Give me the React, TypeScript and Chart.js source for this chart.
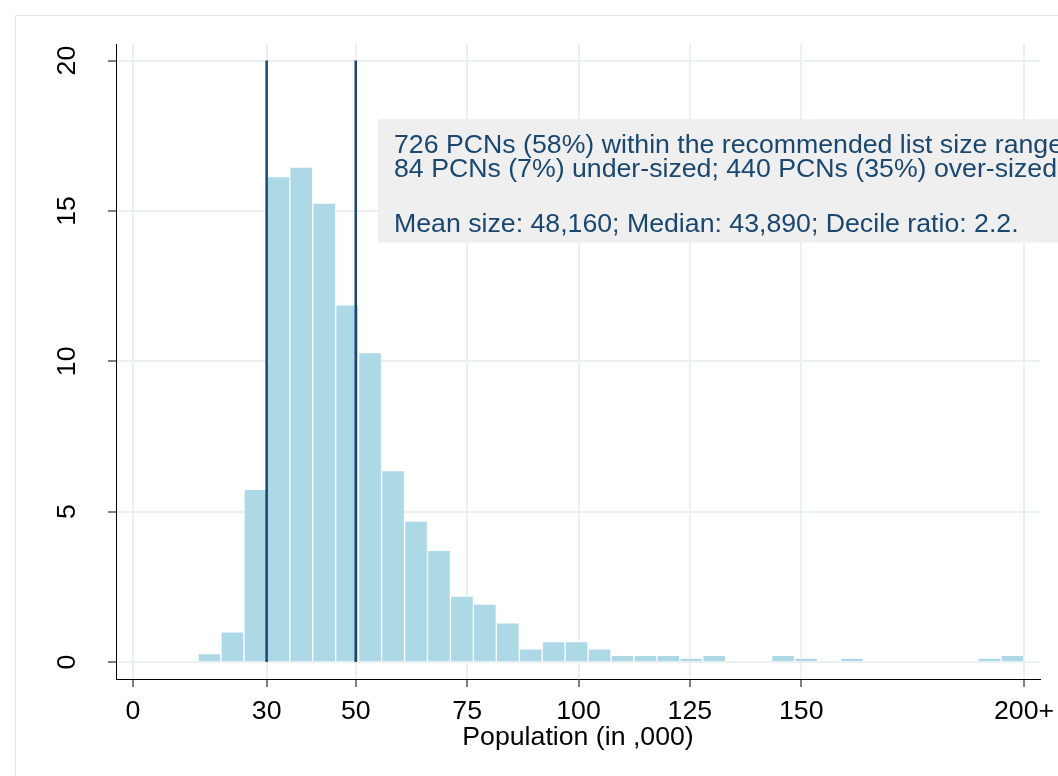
import React, { useEffect, useRef } from 'react';
import { Chart, registerables } from 'chart.js';

Chart.register(...registerables);

// ---- data ----
const BIN_START = 14.6; // left edge of first bin (thousands)
const BIN_WIDTH = 5.15; // bin width (thousands)
const PERCENT = [
  0.28, 1.0, 5.74, 16.14, 16.46, 15.26, 11.88, 10.29, 6.37, 4.69, 3.71, 2.19,
  1.93, 1.3, 0.44, 0.68, 0.68, 0.44, 0.22, 0.22, 0.22, 0.13, 0.22, 0, 0, 0.22,
  0.13, 0, 0.13, 0, 0, 0, 0, 0, 0.13, 0.22,
];
const X_TICKS = [0, 30, 50, 75, 100, 125, 150, 200];
const X_TICK_LABELS = ['0', '30', '50', '75', '100', '125', '150', '200+'];
const Y_TICKS = [0, 5, 10, 15, 20];
const REF_LINES = [30, 50];
const X_TITLE = 'Population (in ,000)';
const NOTE_LINES = [
  '726 PCNs (58%) within the recommended list size range',
  '84 PCNs (7%) under-sized; 440 PCNs (35%) over-sized',
  '',
  'Mean size: 48,160; Median: 43,890; Decile ratio: 2.2.',
];
// note box anchor in data units
const NOTE_X = 55;
const NOTE_TOP = 18.05;
const NOTE_BOTTOM = 13.95;

// ---- style ----
const FAMILY = '"Liberation Sans", Arial, Helvetica, sans-serif';
const FS = 26.7;
const NAVY = '#1a476f';
const BAR = '#add8e6';
const GRID = '#e9f1f3';

const decor = {
  id: 'decor',
  beforeDraw(chart: any) {
    const ctx = chart.ctx;
    ctx.save();
    ctx.strokeStyle = '#e4e4e4';
    ctx.lineWidth = 1;
    ctx.beginPath();
    ctx.moveTo(15.5, chart.height);
    ctx.lineTo(15.5, 15.5);
    ctx.lineTo(chart.width, 15.5);
    ctx.stroke();
    ctx.restore();
  },
  afterDatasetsDraw(chart: any) {
    const ctx = chart.ctx;
    const xs = chart.scales.x;
    const ys = chart.scales.y;
    ctx.save();
    // reference lines
    ctx.strokeStyle = NAVY;
    ctx.lineWidth = 2.5;
    const yTop = ys.getPixelForValue(Y_TICKS[Y_TICKS.length - 1]);
    const yBot = ys.getPixelForValue(0);
    for (const v of REF_LINES) {
      const px = xs.getPixelForValue(v);
      ctx.beginPath();
      ctx.moveTo(px, yTop);
      ctx.lineTo(px, yBot);
      ctx.stroke();
    }
    // note box
    const bx = xs.getPixelForValue(NOTE_X);
    const by = ys.getPixelForValue(NOTE_TOP);
    const bb = ys.getPixelForValue(NOTE_BOTTOM);
    ctx.fillStyle = '#efefef';
    ctx.fillRect(bx, by, chart.width - bx, bb - by);
    ctx.fillStyle = NAVY;
    ctx.font = `${FS}px ${FAMILY}`;
    ctx.textAlign = 'left';
    ctx.textBaseline = 'alphabetic';
    const offs = [34, 58, 86, 113];
    NOTE_LINES.forEach((t, i) => {
      if (t) ctx.fillText(t, bx + 16, by + offs[i]);
    });
    ctx.restore();
  },
  afterDraw(chart: any) {
    const ctx = chart.ctx;
    const ys = chart.scales.y;
    ctx.save();
    ctx.fillStyle = '#000';
    ctx.font = `${FS}px ${FAMILY}`;
    ctx.textAlign = 'center';
    ctx.textBaseline = 'alphabetic';
    for (const v of Y_TICKS) {
      const py = ys.getPixelForValue(v);
      ctx.save();
      ctx.translate(75, py);
      ctx.rotate(-Math.PI / 2);
      ctx.fillText(String(v), 0, 0);
      ctx.restore();
    }
    ctx.restore();
  },
};

export default function App() {
  const ref = useRef<HTMLCanvasElement>(null);
  useEffect(() => {
    if (!ref.current) return;
    const chart = new Chart(ref.current, {
      type: 'bar',
      data: {
        datasets: [
          {
            data: PERCENT.map((v, k) => ({ x: BIN_START + (k + 0.5) * BIN_WIDTH, y: v })) as any,
            backgroundColor: BAR,
            borderColor: '#ffffff',
            borderWidth: 1,
            categoryPercentage: 1,
            barPercentage: 1,
          },
        ],
      },
      options: {
        responsive: false,
        maintainAspectRatio: false,
        animation: false,
        layout: { padding: { left: 0, right: 18, top: 44, bottom: 0 } },
        plugins: { legend: { display: false }, tooltip: { enabled: false } },
        scales: {
          x: {
            type: 'linear',
            min: -3.816,
            max: 203.59,
            offset: false,
            afterBuildTicks: (s: any) => {
              s.ticks = X_TICKS.map((v) => ({ value: v }));
            },
            afterFit: (s: any) => {
              s.height = 97;
              s.paddingLeft = 0;
              s.paddingRight = 0;
            },
            ticks: {
              autoSkip: false,
              maxRotation: 0,
              minRotation: 0,
              padding: 9,
              color: '#000',
              font: { size: FS, family: FAMILY },
              callback: (v: any) => X_TICK_LABELS[X_TICKS.indexOf(Number(v))],
            },
            grid: {
              offset: false,
              color: GRID,
              lineWidth: 2,
              tickColor: '#000',
              tickLength: 8,
              tickWidth: 1,
            },
            border: { color: '#000', width: 1 },
            title: {
              display: true,
              text: X_TITLE,
              color: '#000',
              font: { size: FS, family: FAMILY },
              padding: { top: 0, bottom: 22 },
            },
          },
          y: {
            type: 'linear',
            min: -0.565,
            max: 20.552,
            afterBuildTicks: (s: any) => {
              s.ticks = Y_TICKS.map((v) => ({ value: v }));
            },
            afterFit: (s: any) => {
              s.width = 116;
              s.paddingTop = 0;
              s.paddingBottom = 0;
            },
            ticks: { display: false },
            grid: {
              offset: false,
              color: GRID,
              lineWidth: 2,
              tickColor: '#000',
              tickLength: 8,
              tickWidth: 1,
            },
            border: { color: '#000', width: 1 },
          },
        },
      },
      plugins: [decor],
    });
    return () => chart.destroy();
  }, []);
  return (
    <div style={{ position: 'absolute', left: 0, top: 0, width: 1058, height: 776, background: '#fff' }}>
      <canvas ref={ref} width={1058} height={776} style={{ display: 'block', width: 1058, height: 776 }} />
    </div>
  );
}
